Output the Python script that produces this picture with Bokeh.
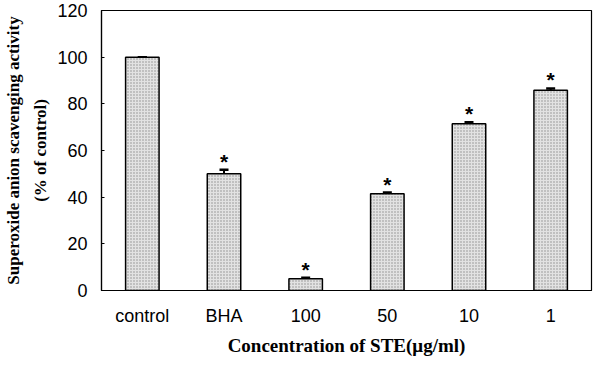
from bokeh.plotting import figure
from bokeh.models import ColumnDataSource, Whisker, FactorRange, LinearAxis, FixedTicker
from bokeh.core.properties import value
from bokeh.embed import file_html
from bokeh.resources import INLINE

categories = ["control", "BHA", "100", "50", "10", "1"]
activity = [100, 50, 5, 41.5, 71.5, 85.8]
errors = [0, 1.8, 0.5, 0.5, 0.6, 0.8]
significant = [False, True, True, True, True, True]
y_ticks = [0, 20, 40, 60, 80, 100, 120]

src = ColumnDataSource(dict(
    cat=categories,
    val=activity,
    upper=[v + e for v, e in zip(activity, errors)],
    lower=[v - e for v, e in zip(activity, errors)],
))
star_cats = [c for c, s in zip(categories, significant) if s]
star_y = [v + e for v, e, s in zip(activity, errors, significant) if s]
star_src = ColumnDataSource(dict(cat=star_cats, y=star_y, t=["*"] * len(star_cats)))

p = figure(width=600, height=358, x_range=FactorRange(*categories), y_range=(0, 120),
           output_backend="svg", toolbar_location=None,
           min_border_left=99, min_border_right=9, min_border_top=10, min_border_bottom=60)
p.vbar(x="cat", top="val", width=0.41, source=src, fill_color="#e2e2e2",
       hatch_pattern="dot", hatch_color="#8c8c8c", hatch_scale=3, hatch_weight=1,
       line_color="black", line_width=1.5)
w = Whisker(base="cat", upper="upper", lower="lower", source=src, line_color="black",
            line_width=2)
w.upper_head.size = 9
w.lower_head.size = 9
w.upper_head.line_width = 2.5
w.lower_head.line_width = 2.5
p.add_layout(w)
p.text(x="cat", y="y", text="t", source=star_src, text_align="center",
       text_baseline="bottom", y_offset=3, text_font=value("Liberation Sans"),
       text_font_size="21px", text_font_style="bold", text_color="black")

p.xgrid.visible = False
p.ygrid.visible = False
p.outline_line_color = "black"
p.outline_line_width = 1.2

p.yaxis.ticker = y_ticks
p.yaxis.axis_label = "(% of control)"
p.yaxis.axis_label_text_font = "Liberation Serif"
p.yaxis.axis_label_text_font_style = "bold"
p.yaxis.axis_label_text_font_size = "17px"
p.yaxis.axis_label_text_color = "black"
p.yaxis.axis_label_standoff = 4
p.yaxis.major_label_text_font = "Liberation Sans"
p.yaxis.major_label_text_font_size = "18px"
p.yaxis.major_label_text_color = "black"
p.yaxis.major_tick_in = 3
p.yaxis.major_tick_out = 0
p.yaxis.major_tick_line_color = "black"
p.yaxis.minor_tick_line_color = None
p.yaxis.axis_line_color = "black"
p.yaxis.axis_line_width = 1.2
p.yaxis.major_label_standoff = 14

outer = LinearAxis(ticker=FixedTicker(ticks=[]), axis_line_color=None,
                   major_tick_line_color=None, minor_tick_line_color=None,
                   major_tick_out=0, major_tick_in=0, major_label_standoff=0,
                   axis_label="Superoxide anion scavenging activity",
                   axis_label_text_font="Liberation Serif",
                   axis_label_text_font_style="bold",
                   axis_label_text_color="black",
                   axis_label_text_font_size="17px", axis_label_standoff=6)
p.add_layout(outer, "left")

p.xaxis.axis_label = "Concentration of STE(μg/ml)"
p.xaxis.axis_label_text_font = "Liberation Serif"
p.xaxis.axis_label_text_font_style = "bold"
p.xaxis.axis_label_text_font_size = "19px"
p.xaxis.axis_label_text_color = "black"
p.xaxis.axis_label_standoff = 6
p.xaxis.major_label_text_font = "Liberation Sans"
p.xaxis.major_label_text_font_size = "18px"
p.xaxis.major_label_text_color = "black"
p.xaxis.major_label_standoff = 9
p.xaxis.major_tick_line_color = None
p.xaxis.axis_line_color = "black"
p.xaxis.axis_line_width = 1.2

open("out.html", "w").write(file_html(p, INLINE))
